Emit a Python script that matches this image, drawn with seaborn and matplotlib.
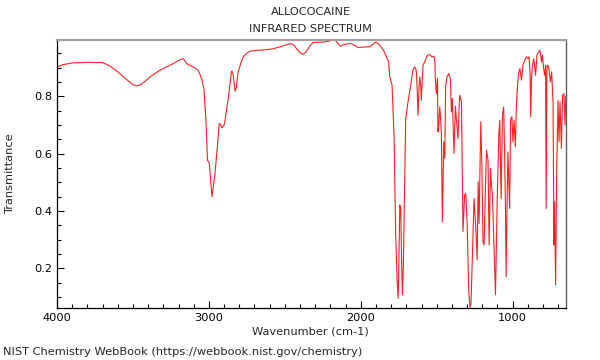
import matplotlib
matplotlib.use("Agg")
import matplotlib.pyplot as plt
from matplotlib.ticker import MultipleLocator
import seaborn as sns
import numpy as np

# IR spectrum (wavenumber in cm-1, transmittance)
wavenumber = [
    4000, 3960, 3900, 3800, 3700, 3650, 3600, 3550, 3500, 3476, 3450, 3420,
    3380, 3330, 3280, 3230, 3191, 3170, 3160, 3147, 3120, 3103, 3070, 3048,
    3033, 3020, 3009, 2997, 2990, 2980, 2970, 2961, 2945, 2932, 2922, 2914,
    2900, 2895, 2873, 2851, 2845, 2840, 2828, 2820, 2807, 2790, 2774, 2750,
    2730, 2680, 2620, 2580, 2533, 2511, 2470, 2456, 2440, 2423, 2400, 2384,
    2370, 2357, 2335, 2314, 2270, 2237, 2190, 2175, 2160, 2145, 2133, 2120,
    2105, 2080, 2061, 2040, 2018, 1980, 1941, 1920, 1905, 1895, 1875, 1850,
    1831, 1816, 1809, 1794, 1781, 1770, 1760, 1754, 1748, 1743, 1737, 1732,
    1726, 1720, 1715, 1704, 1689, 1671, 1656, 1645, 1638, 1634, 1628, 1623,
    1617, 1612, 1606, 1601, 1595, 1590, 1575, 1561, 1546, 1531, 1518, 1512,
    1509, 1502, 1495, 1492, 1486, 1480, 1474, 1469, 1463, 1458, 1454, 1447,
    1441, 1432, 1425, 1421, 1415, 1410, 1403, 1397, 1386, 1377, 1370, 1360,
    1349, 1337, 1327, 1316, 1309, 1300, 1289, 1280, 1274, 1267, 1254, 1243,
    1234, 1227, 1221, 1210, 1203, 1195, 1188, 1179, 1172, 1162, 1155, 1146,
    1139, 1133, 1122, 1113, 1102, 1091, 1085, 1076, 1067, 1059, 1053, 1047,
    1043, 1036, 1031, 1020, 1013, 1005, 998, 991, 982, 976, 969, 961,
    952, 942, 932, 921, 909, 899, 892, 885, 881, 876, 870, 861,
    849, 840, 829, 820, 810, 804, 796, 789, 783, 779, 775, 771,
    763, 751, 743, 734, 728, 724, 717, 710, 701, 695, 688, 679,
    671, 662, 655, 650,
]
transmittance = [
    0.902, 0.910, 0.916, 0.918, 0.917, 0.905, 0.885, 0.862, 0.840, 0.836, 0.840, 0.852,
    0.870, 0.888, 0.902, 0.915, 0.927, 0.931, 0.925, 0.914, 0.906, 0.902, 0.890, 0.862,
    0.827, 0.722, 0.577, 0.566, 0.520, 0.450, 0.490, 0.525, 0.618, 0.705, 0.700, 0.690,
    0.700, 0.711, 0.792, 0.887, 0.885, 0.875, 0.817, 0.830, 0.885, 0.915, 0.937, 0.950,
    0.957, 0.960, 0.962, 0.965, 0.972, 0.976, 0.982, 0.983, 0.978, 0.966, 0.952, 0.946,
    0.950, 0.957, 0.975, 0.987, 0.988, 0.989, 0.994, 0.995, 0.991, 0.980, 0.974, 0.978,
    0.981, 0.983, 0.983, 0.977, 0.970, 0.971, 0.973, 0.980, 0.988, 0.987, 0.978, 0.960,
    0.937, 0.919, 0.867, 0.838, 0.664, 0.317, 0.150, 0.096, 0.250, 0.421, 0.409, 0.250,
    0.108, 0.200, 0.363, 0.722, 0.780, 0.838, 0.893, 0.902, 0.895, 0.885, 0.820, 0.734,
    0.820, 0.867, 0.840, 0.786, 0.860, 0.908, 0.925, 0.943, 0.945, 0.937, 0.940, 0.920,
    0.862, 0.809, 0.862, 0.676, 0.700, 0.763, 0.720, 0.664, 0.363, 0.500, 0.641, 0.583,
    0.838, 0.867, 0.875, 0.879, 0.870, 0.862, 0.745, 0.792, 0.601, 0.766, 0.716, 0.653,
    0.803, 0.780, 0.328, 0.456, 0.461, 0.363, 0.119, 0.063, 0.080, 0.212, 0.444, 0.345,
    0.230, 0.502, 0.357, 0.711, 0.571, 0.293, 0.282, 0.479, 0.612, 0.577, 0.282, 0.549,
    0.485, 0.456, 0.270, 0.108, 0.432, 0.664, 0.716, 0.444, 0.734, 0.763, 0.600, 0.400,
    0.171, 0.450, 0.606, 0.409, 0.722, 0.728, 0.641, 0.716, 0.624, 0.757, 0.827, 0.879,
    0.896, 0.856, 0.908, 0.925, 0.937, 0.931, 0.937, 0.880, 0.728, 0.860, 0.908, 0.931,
    0.873, 0.943, 0.954, 0.960, 0.919, 0.943, 0.896, 0.873, 0.908, 0.409, 0.880, 0.908,
    0.902, 0.850, 0.885, 0.780, 0.282, 0.432, 0.143, 0.549, 0.786, 0.641, 0.780, 0.618,
    0.803, 0.809, 0.700, 0.800,
]

title_lines = ["ALLOCOCAINE", "INFRARED SPECTRUM"]
footer = "NIST Chemistry WebBook (https://webbook.nist.gov/chemistry)"


def main():
    sns.set_style("white")
    plt.rcParams["font.family"] = ["DejaVu Sans"]
    fs = 8.2

    fig = plt.figure(figsize=(6, 3.6), dpi=100)
    ax = fig.add_axes([0.095, 0.145, 0.848, 0.744])

    sns.lineplot(x=wavenumber, y=transmittance, sort=False, estimator=None,
                 color="#ff2020", linewidth=0.8, ax=ax)

    ax.set_xlim(4000, 650)
    ax.set_ylim(0.063, 0.996)

    ax.xaxis.set_major_locator(MultipleLocator(1000))
    ax.xaxis.set_minor_locator(MultipleLocator(100))
    ax.yaxis.set_major_locator(MultipleLocator(0.2))
    ax.yaxis.set_minor_locator(MultipleLocator(0.05))
    ax.tick_params(which="both", direction="in", labelsize=fs, colors="black",
                   bottom=True, left=True, top=False, right=False)
    ax.tick_params(which="major", length=5, width=0.8)
    ax.tick_params(which="minor", length=3, width=0.8)

    for side in ["left", "bottom"]:
        ax.spines[side].set_color("black")
        ax.spines[side].set_linewidth(0.9)
    ax.spines["top"].set_color("#a0a0a0")
    ax.spines["top"].set_linewidth(1.6)
    ax.spines["right"].set_color("#606060")
    ax.spines["right"].set_linewidth(1.0)

    ax.set_xlabel("")
    ax.set_ylabel("")
    fig.text(0.518, 0.967, title_lines[0], ha="center", va="center", fontsize=fs)
    fig.text(0.518, 0.920, title_lines[1], ha="center", va="center", fontsize=fs)
    fig.text(0.518, 0.078, "Wavenumber (cm-1)", ha="center", va="center", fontsize=fs)
    fig.text(0.017, 0.517, "Transmittance", ha="center", va="center",
             rotation=90, fontsize=fs)
    fig.text(0.005, 0.022, footer, ha="left", va="center", fontsize=fs)

    fig.savefig("out.png", dpi=100)


if __name__ == "__main__":
    main()
